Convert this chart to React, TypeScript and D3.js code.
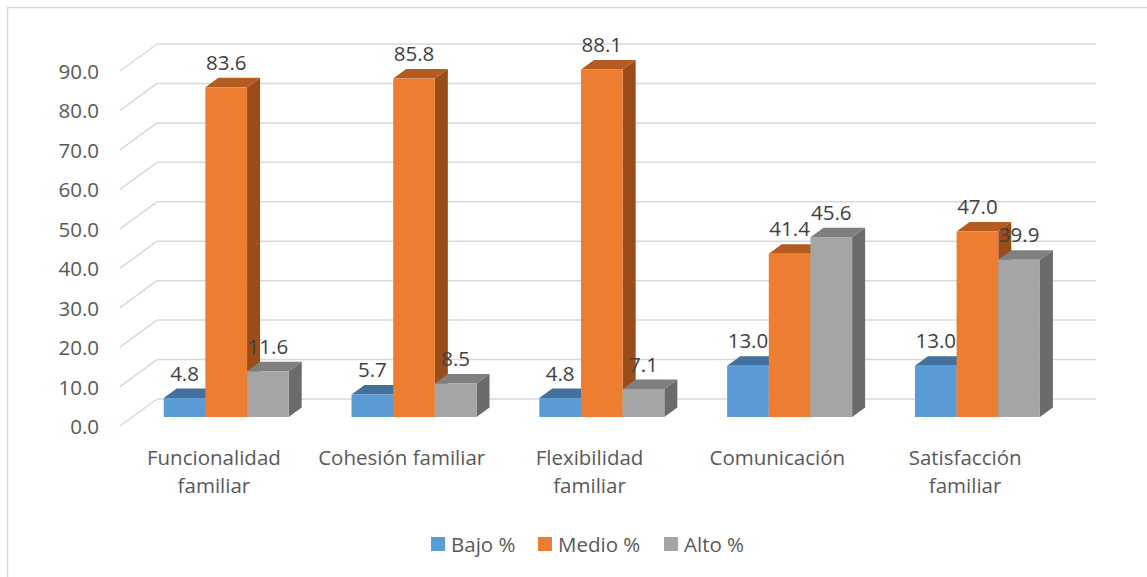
import { FC } from "react";
import * as d3 from "d3";

const WIDTH = 1147;
const HEIGHT = 577;

// data
const categories = [
  "Funcionalidad familiar",
  "Cohesión familiar",
  "Flexibilidad familiar",
  "Comunicación",
  "Satisfacción familiar",
];
const categoryLines = [
  ["Funcionalidad", "familiar"],
  ["Cohesión familiar"],
  ["Flexibilidad", "familiar"],
  ["Comunicación"],
  ["Satisfacción", "familiar"],
];
const seriesNames = ["Bajo %", "Medio %", "Alto %"];
const bajo = [4.8, 5.7, 4.8, 13.0, 13.0];
const medio = [83.6, 85.8, 88.1, 41.4, 47.0];
const alto = [11.6, 8.5, 7.1, 45.6, 39.9];
const yTicks = [0, 10, 20, 30, 40, 50, 60, 70, 80, 90];

const seriesValues = [bajo, medio, alto];

// face colours: front, top, side
const COLORS = [
  { front: "#5b9bd5", top: "#41719c", side: "#3a6690" },
  { front: "#ed7d31", top: "#b35b20", side: "#9a4c1a" },
  { front: "#a5a5a5", top: "#7f7f7f", side: "#6b6b6b" },
];

const FONT_SIZE = 20.5;

// 3d projection of the floor/walls
const DEPTH_X = 37;
const DEPTH_Y = -27;
const BAR_T = 0.333; // depth of the bar front face
const BAR_DX = 13;
const BAR_DY = -9.5;

const App: FC = () => {
  const yScale = d3.scaleLinear().domain([0, 90]).range([426, 71]);
  const xScale = d3.scaleBand().domain(categories).range([120, 1059]);
  const clusterWidth = 125;

  const px = (x: number, t: number) => x + DEPTH_X * t;
  const py = (v: number, t: number) => yScale(v) + DEPTH_Y * t;

  const grid = yTicks.map((v) => (
    <g key={v}>
      <line
        x1={px(xScale.range()[0], 0)}
        y1={py(v, 0)}
        x2={px(xScale.range()[0], 1)}
        y2={py(v, 1)}
        stroke="#d9d9d9"
        strokeWidth={1.5}
      />
      <line
        x1={px(xScale.range()[0], 1)}
        y1={py(v, 1)}
        x2={px(xScale.range()[1], 1)}
        y2={py(v, 1)}
        stroke="#d9d9d9"
        strokeWidth={1.5}
      />
      <text
        x={99}
        y={yScale(v)}
        textAnchor="end"
        dominantBaseline="central"
        fontSize={FONT_SIZE}
        fill="#595959"
      >
        {v.toFixed(1)}
      </text>
    </g>
  ));

  const bars: JSX.Element[] = [];
  const labels: JSX.Element[] = [];
  categories.forEach((c, ci) => {
    const center = (xScale(c) ?? 0) + xScale.bandwidth() / 2;
    const inner = d3
      .scaleBand()
      .domain(seriesNames)
      .range([center - clusterWidth / 2, center + clusterWidth / 2]);
    seriesNames.forEach((s, si) => {
      const v = seriesValues[si][ci];
      const x0 = px(inner(s) ?? 0, BAR_T);
      const x1 = x0 + inner.bandwidth();
      const yb = py(0, BAR_T);
      const yt = py(v, BAR_T);
      const col = COLORS[si];
      bars.push(
        <g key={`${ci}-${si}`}>
          <path
            d={`M${x1},${yt}L${x1 + BAR_DX},${yt + BAR_DY}L${x1 + BAR_DX},${yb + BAR_DY}L${x1},${yb}Z`}
            fill={col.side}
          />
          <path
            d={`M${x0},${yt}L${x0 + BAR_DX},${yt + BAR_DY}L${x1 + BAR_DX},${yt + BAR_DY}L${x1},${yt}Z`}
            fill={col.top}
          />
          <rect x={x0} y={yt} width={x1 - x0} height={yb - yt} fill={col.front} />
        </g>
      );
      labels.push(
        <text
          key={`l-${ci}-${si}`}
          x={(x0 + x1) / 2}
          y={yt + BAR_DY - 8}
          textAnchor="middle"
          fontSize={FONT_SIZE}
          fill="#404040"
        >
          {v.toFixed(1)}
        </text>
      );
    });
  });

  const catLabels = categories.map((c, ci) => {
    const center = (xScale(c) ?? 0) + xScale.bandwidth() / 2;
    return (
      <text key={c} textAnchor="middle" fontSize={FONT_SIZE} fill="#595959">
        {categoryLines[ci].map((line, li) => (
          <tspan key={li} x={center} y={465 + li * 28}>
            {line}
          </tspan>
        ))}
      </text>
    );
  });

  const legendX = [431, 538, 664];
  const legend = seriesNames.map((s, si) => (
    <g key={s} transform={`translate(${legendX[si]},537)`}>
      <rect width={14} height={14} fill={COLORS[si].front} />
      <text x={20} y={7} dominantBaseline="central" fontSize={FONT_SIZE} fill="#595959">
        {s}
      </text>
    </g>
  ));

  return (
    <svg
      width={WIDTH}
      height={HEIGHT}
      style={{ position: "absolute", left: 0, top: 0, fontFamily: "'Open Sans', sans-serif" }}
    >
      <rect x={0} y={0} width={WIDTH} height={HEIGHT} fill="#ffffff" />
      <rect x={7.5} y={7.5} width={WIDTH + 20} height={HEIGHT + 20} fill="none" stroke="#d9d9d9" strokeWidth={1.5} />
      {grid}
      {bars}
      {labels}
      {catLabels}
      {legend}
    </svg>
  );
};

export default App;
